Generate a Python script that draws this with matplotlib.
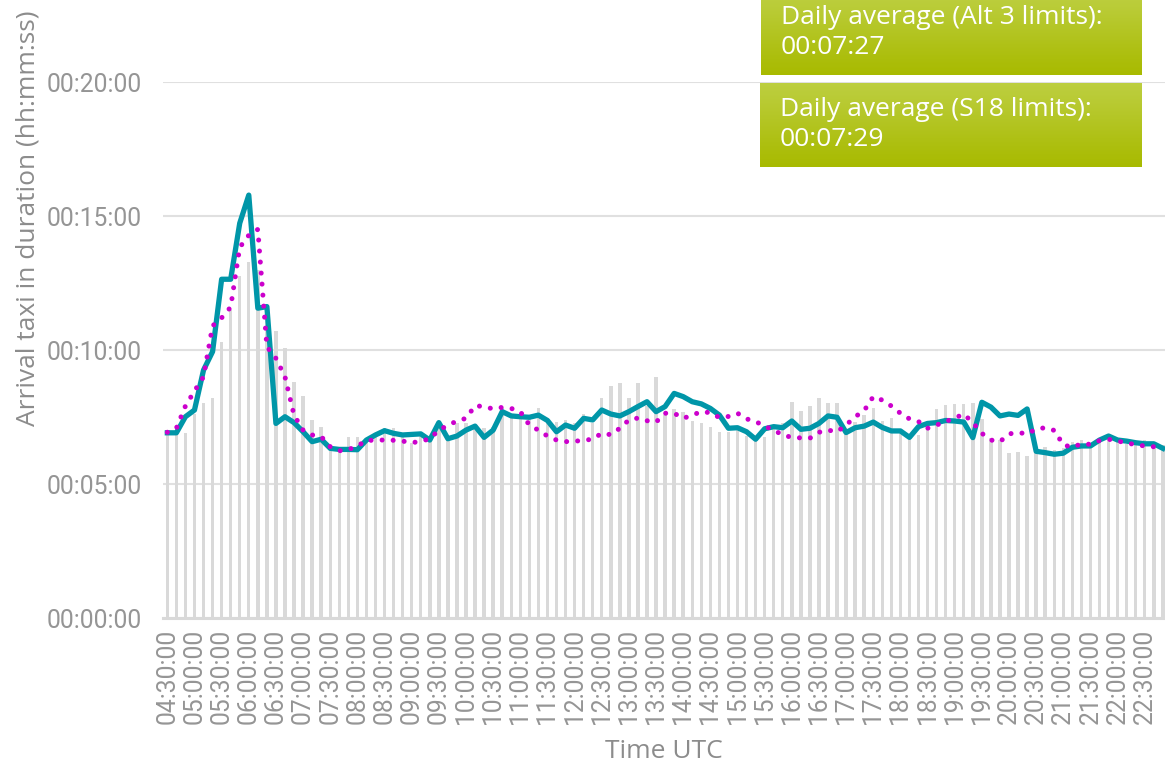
import numpy as np
import matplotlib.pyplot as plt
from matplotlib.ticker import FuncFormatter

# 10-minute slots from 04:30 to 22:50 (UTC)
slots = [f"{(270 + 10 * k) // 60:02d}:{(270 + 10 * k) % 60:02d}:00" for k in range(111)]

# arrival taxi duration, minutes
actual = [6.90, 6.90, 6.89, 7.60, 8.03, 8.20, 10.30, 11.50, 12.76, 13.30,
          13.00, 11.30, 10.72, 10.07, 8.80, 8.28, 7.39, 7.14, 6.39, 6.35,
          6.75, 6.74, 6.64, 6.74, 7.08, 7.08, 6.74, 6.52, 6.87, 6.64,
          7.26, 6.64, 7.26, 7.26, 7.13, 7.08, 7.13, 7.82, 7.57, 7.64,
          7.50, 7.82, 7.39, 7.30, 7.39, 7.26, 7.61, 7.26, 8.22, 8.66,
          8.78, 8.20, 8.76, 7.90, 9.00, 7.57, 7.78, 7.67, 7.35, 7.27,
          7.14, 6.95, 6.95, 7.08, 6.80, 6.64, 6.77, 7.14, 7.26, 8.07,
          7.74, 7.91, 8.20, 8.03, 8.03, 6.85, 7.33, 7.57, 7.82, 7.35,
          7.45, 6.95, 6.77, 6.83, 7.26, 7.79, 7.95, 7.98, 7.98, 8.03,
          7.41, 6.71, 6.64, 6.17, 6.20, 6.04, 6.15, 6.37, 6.27, 6.33,
          6.58, 6.64, 6.42, 6.64, 6.79, 6.64, 6.49, 6.45, 6.64, 6.50,
          6.45]

s18 = [6.91, 6.91, 7.51, 7.76, 9.25, 9.94, 12.64, 12.64, 14.73, 15.78,
       11.56, 11.62, 7.26, 7.51, 7.29, 6.95, 6.58, 6.67, 6.33, 6.29,
       6.29, 6.28, 6.64, 6.83, 6.99, 6.89, 6.83, 6.85, 6.87, 6.64,
       7.29, 6.69, 6.79, 7.01, 7.16, 6.74, 7.01, 7.70, 7.54, 7.51,
       7.49, 7.57, 7.37, 6.95, 7.20, 7.08, 7.45, 7.39, 7.76, 7.61,
       7.54, 7.70, 7.89, 8.07, 7.70, 7.89, 8.38, 8.26, 8.07, 7.99,
       7.82, 7.57, 7.08, 7.10, 6.95, 6.67, 7.06, 7.14, 7.10, 7.35,
       7.04, 7.08, 7.26, 7.54, 7.49, 6.92, 7.10, 7.16, 7.31, 7.11,
       6.98, 6.98, 6.74, 7.14, 7.26, 7.29, 7.37, 7.35, 7.31, 6.73,
       8.05, 7.87, 7.54, 7.61, 7.56, 7.80, 6.22, 6.17, 6.11, 6.15,
       6.37, 6.42, 6.42, 6.64, 6.79, 6.64, 6.60, 6.54, 6.50, 6.50,
       6.33]

alt3 = [6.93, 7.08, 7.91, 8.47, 9.00, 10.90, 11.20, 11.60, 13.83, 14.28,
        14.50, 10.12, 9.69, 9.00, 7.57, 7.01, 6.83, 6.77, 6.39, 6.24,
        6.28, 6.42, 6.62, 6.64, 6.64, 6.63, 6.60, 6.54, 6.59, 6.69,
        7.01, 7.19, 7.35, 7.45, 7.92, 7.89, 7.80, 7.86, 7.82, 7.70,
        7.20, 7.01, 6.79, 6.64, 6.58, 6.60, 6.62, 6.68, 6.89, 6.84,
        7.08, 7.39, 7.46, 7.36, 7.31, 7.64, 7.64, 7.45, 7.57, 7.70,
        7.66, 7.48, 7.52, 7.64, 7.43, 7.33, 7.16, 7.01, 6.83, 6.74,
        6.72, 6.71, 6.93, 7.01, 6.95, 7.20, 7.51, 7.74, 8.26, 8.13,
        7.91, 7.64, 7.43, 7.33, 7.08, 7.20, 7.33, 7.46, 7.61, 7.29,
        6.89, 6.64, 6.58, 6.87, 6.92, 6.87, 7.05, 7.10, 7.00, 6.46,
        6.37, 6.50, 6.48, 6.62, 6.67, 6.60, 6.54, 6.46, 6.42, 6.39,
        6.34]

avg_boxes = [("Daily average (Alt 3 limits):", "00:07:27"),
             ("Daily average (S18 limits):", "00:07:29")]

W, H = 1165, 764
fig = plt.figure(figsize=(W / 100, H / 100), dpi=100)
ax = fig.add_axes([162.8 / W, 1 - 618 / H, 1004.6 / W, 536 / H])

x = np.arange(len(slots))
ax.bar(x, actual, width=0.38, color="#d9d9d9", zorder=2)
ax.plot(x, s18, color="#0096a8", lw=3.8, solid_joinstyle="round", zorder=3)
ax.plot(x, alt3, color="#cc00cc", lw=3.6, linestyle=(0, (0.01, 2.2)),
        dash_capstyle="round", zorder=4)

ax.set_xlim(-0.5, len(slots) - 0.5)
ax.set_ylim(0, 20)
ax.set_yticks([0, 5, 10, 15, 20])


def hms(v, pos):
    s = int(round(v * 60))
    return f"{s // 3600:02d}:{(s % 3600) // 60:02d}:{s % 60:02d}"


ax.yaxis.set_major_formatter(FuncFormatter(hms))
ax.set_xticks(x[::3])
ax.set_xticklabels(slots[::3], rotation=90)
ax.tick_params(axis="both", length=0, labelsize=17.7, labelcolor="#959595",
               labelfontfamily="Roboto")
ax.tick_params(axis="x", pad=8)
ax.tick_params(axis="y", pad=15)

ax.grid(axis="y", color="#e0e0e0", lw=1.5, zorder=0)
for side in ["top", "right", "left"]:
    ax.spines[side].set_visible(False)
ax.spines["bottom"].set_color("#d9d9d9")
ax.spines["bottom"].set_linewidth(2.2)
ax.set_axisbelow(True)

fig.text(28 / W, 1 - 218 / H, "Arrival taxi in duration (hh:mm:ss)", rotation=90,
         ha="center", va="center", fontsize=19, color="#8c8c8c", family="Open Sans")
fig.text(664 / W, 1 - 752 / H, "Time UTC", ha="center", va="center",
         fontsize=19, color="#8c8c8c", family="Open Sans")

# green summary boxes with a vertical gradient
grad = np.linspace(0, 1, 64).reshape(-1, 1)
top_c = np.array([0.74, 0.81, 0.25])
bot_c = np.array([0.66, 0.73, 0.0])
img = (1 - grad)[..., None] * top_c + grad[..., None] * bot_c
img[8:56] = np.array([0.71, 0.79, 0.0])
img = np.concatenate([img[:8], np.linspace(img[7], img[56], 48), img[56:]])
boxes = [(761, -5, 1142, 75), (760, 83, 1142, 167)]
for (x0, y0, x1, y1), (line1, line2) in zip(boxes, avg_boxes):
    bax = fig.add_axes([x0 / W, 1 - y1 / H, (x1 - x0) / W, (y1 - y0) / H])
    bax.imshow(img, aspect="auto", extent=(0, 1, 0, 1))
    bax.set_axis_off()
    fig.text((x0 + 20) / W, 1 - (y1 - 58) / H, line1, ha="left", va="center",
             fontsize=19, color="white", family="Open Sans")
    fig.text((x0 + 20) / W, 1 - (y1 - 27) / H, line2, ha="left", va="center",
             fontsize=19, color="white", family="Open Sans")

fig.savefig("out.png", dpi=100)
